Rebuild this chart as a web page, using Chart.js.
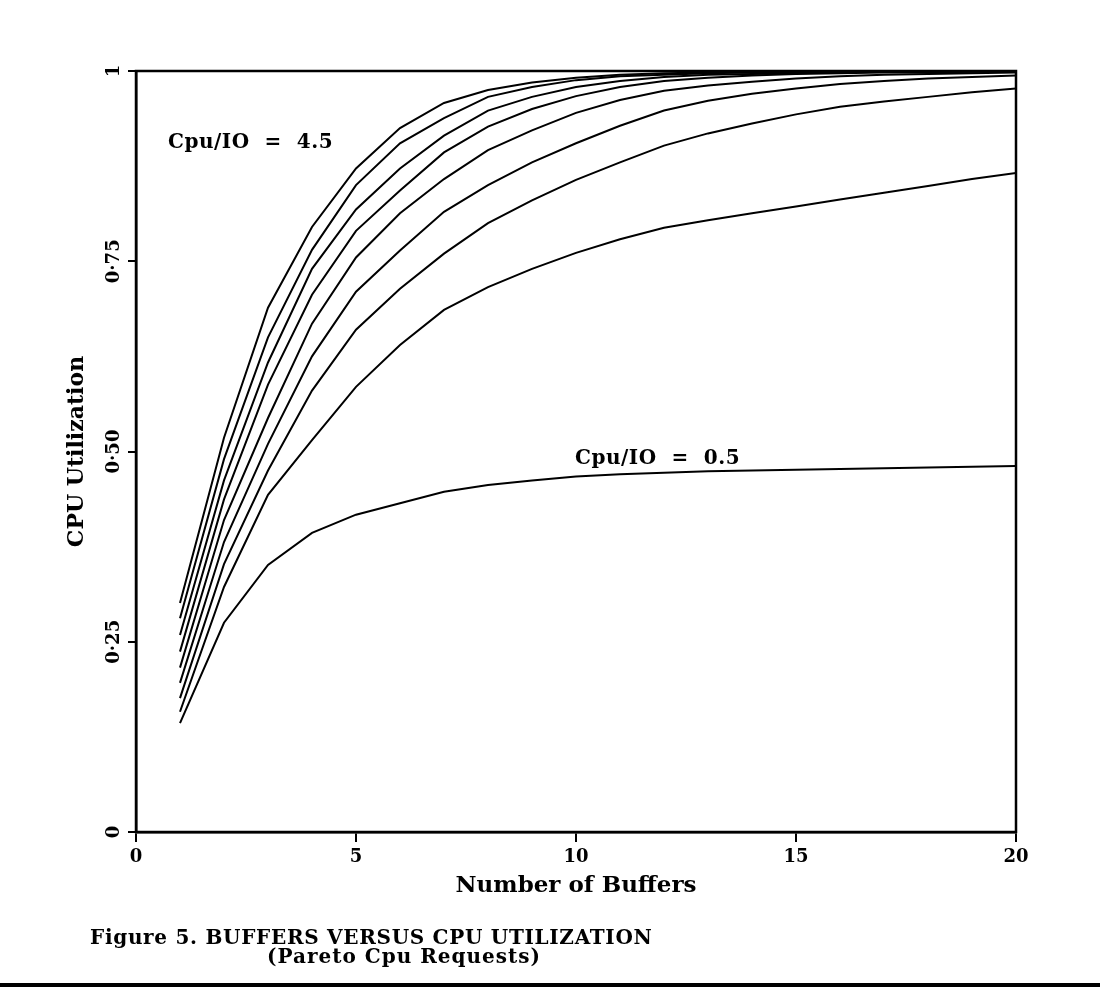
<!DOCTYPE html>
<html>
<head>
<meta charset="utf-8">
<title>Buffers versus CPU utilization</title>
<script src="https://cdn.jsdelivr.net/npm/chart.js@4.4.1/dist/chart.umd.min.js"></script>
<style>
  html, body { margin: 0; padding: 0; background: #fff; }
  canvas { display: block; }
</style>
</head>
<body>
<canvas id="chart" width="1100" height="987"></canvas>
<script>
// Figure 5 - buffers versus CPU utilization (Pareto cpu requests)

// x values: number of buffers
const buffers = [1, 2, 3, 4, 5, 6, 7, 8, 9, 10, 11, 12, 13, 14, 15, 16, 17, 18, 19, 20];

// CPU utilization, one array per Cpu/IO ratio
const cpuIo05 = [0.143, 0.275, 0.351, 0.393, 0.417, 0.432, 0.447, 0.456, 0.462, 0.467, 0.470, 0.472, 0.474, 0.475, 0.476, 0.477, 0.478, 0.479, 0.480, 0.481];
const cpuIo10 = [0.158, 0.322, 0.443, 0.515, 0.585, 0.640, 0.686, 0.716, 0.740, 0.761, 0.779, 0.794, 0.804, 0.813, 0.822, 0.831, 0.840, 0.849, 0.858, 0.866];
const cpuIo15 = [0.176, 0.352, 0.475, 0.580, 0.660, 0.714, 0.760, 0.800, 0.830, 0.857, 0.880, 0.902, 0.918, 0.931, 0.943, 0.953, 0.960, 0.966, 0.972, 0.977];
const cpuIo20 = [0.196, 0.381, 0.510, 0.625, 0.710, 0.764, 0.815, 0.850, 0.880, 0.905, 0.928, 0.948, 0.961, 0.970, 0.977, 0.983, 0.987, 0.990, 0.992, 0.994];
const cpuIo25 = [0.216, 0.410, 0.544, 0.668, 0.755, 0.813, 0.858, 0.896, 0.922, 0.945, 0.962, 0.974, 0.981, 0.986, 0.990, 0.993, 0.995, 0.996, 0.997, 0.998];
const cpuIo30 = [0.237, 0.437, 0.588, 0.706, 0.790, 0.843, 0.893, 0.927, 0.950, 0.967, 0.979, 0.987, 0.991, 0.994, 0.996, 0.997, 0.998, 0.998, 0.999, 0.999];
const cpuIo35 = [0.259, 0.462, 0.617, 0.740, 0.818, 0.872, 0.915, 0.948, 0.966, 0.979, 0.987, 0.992, 0.995, 0.996, 0.997, 0.998, 0.999, 0.999, 0.999, 0.999];
const cpuIo40 = [0.281, 0.490, 0.650, 0.765, 0.850, 0.905, 0.938, 0.966, 0.979, 0.988, 0.993, 0.995, 0.997, 0.998, 0.998, 0.999, 0.999, 0.999, 1.000, 1.000];
const cpuIo45 = [0.301, 0.518, 0.689, 0.795, 0.872, 0.925, 0.958, 0.975, 0.985, 0.991, 0.995, 0.997, 0.998, 0.999, 0.999, 0.999, 1.000, 1.000, 1.000, 1.000];

const ratioLabels = ['0.5', '1.0', '1.5', '2.0', '2.5', '3.0', '3.5', '4.0', '4.5'];
const ratioSeries = [cpuIo05, cpuIo10, cpuIo15, cpuIo20, cpuIo25, cpuIo30, cpuIo35, cpuIo40, cpuIo45];

// axis ticks
const xTickValues = [0, 5, 10, 15, 20];
const yTickValues = [0, 0.25, 0.5, 0.75, 1];
const yTickLabels = ['0', '0·25', '0·50', '0·75', '1'];

const serif = '"DejaVu Serif", "Liberation Serif", serif';

// top/right frame, curve labels, caption and the rule at the bottom
const extrasPlugin = {
  id: 'extras',
  afterDraw(chart) {
    const ctx = chart.ctx;
    const area = chart.chartArea;
    const x = chart.scales.x;
    const y = chart.scales.y;
    ctx.save();
    ctx.strokeStyle = '#000';
    ctx.lineWidth = 2.5;
    ctx.strokeRect(area.left, area.top, area.right - area.left, area.bottom - area.top);

    ctx.fillStyle = '#000';
    ctx.textBaseline = 'alphabetic';
    ctx.textAlign = 'left';
    ctx.font = 'bold 20px ' + serif;
    ctx.letterSpacing = '0.5px';
    ctx.fillText('Cpu/IO  =  4.5', x.getPixelForValue(0.73), y.getPixelForValue(0.899));
    ctx.fillText('Cpu/IO  =  0.5', x.getPixelForValue(9.98), y.getPixelForValue(0.483));

    ctx.font = 'bold 20px ' + serif;
    ctx.letterSpacing = '0.7px';
    ctx.fillText('Figure 5. BUFFERS VERSUS CPU UTILIZATION', 90, 944);
    ctx.letterSpacing = '1px';
    ctx.fillText('(Pareto Cpu Requests)', 267, 963);
    ctx.letterSpacing = '0px';

    ctx.fillRect(0, 983, chart.width, 4);
    ctx.restore();
  }
};

const datasets = ratioSeries.map((series, i) => ({
  label: 'Cpu/IO = ' + ratioLabels[i],
  data: buffers.map((b, j) => ({ x: b, y: series[j] })),
  borderColor: '#000',
  borderWidth: 2,
  pointRadius: 0,
  tension: 0,
  fill: false
}));

new Chart(document.getElementById('chart'), {
  type: 'line',
  data: { datasets: datasets },
  options: {
    responsive: false,
    animation: false,
    layout: { padding: { top: 71, right: 84, left: 64, bottom: 87 } },
    plugins: {
      legend: { display: false },
      tooltip: { enabled: false }
    },
    scales: {
      x: {
        type: 'linear',
        min: 0,
        max: 20,
        afterBuildTicks: (scale) => { scale.ticks = xTickValues.map(v => ({ value: v })); },
        afterFit: (scale) => { scale.height = 68; },
        ticks: {
          color: '#000',
          padding: 5,
          font: { family: serif, size: 18, weight: 'bold' }
        },
        grid: { display: true, drawOnChartArea: false, tickLength: 10, color: '#000', lineWidth: 2 },
        border: { display: true, color: '#000', width: 2.5 },
        title: {
          display: true,
          text: 'Number of Buffers',
          color: '#000',
          padding: 0,
          font: { family: serif, size: 23, weight: 'bold' }
        }
      },
      y: {
        type: 'linear',
        min: 0,
        max: 1,
        afterBuildTicks: (scale) => { scale.ticks = yTickValues.map(v => ({ value: v })); },
        afterFit: (scale) => { scale.width = 72; },
        ticks: {
          color: '#000',
          minRotation: 90,
          maxRotation: 90,
          crossAlign: 'center',
          padding: -8,
          font: { family: serif, size: 18, weight: 'bold' },
          callback: (value) => yTickLabels[yTickValues.indexOf(value)]
        },
        grid: { display: true, drawOnChartArea: false, tickLength: 8, color: '#000', lineWidth: 2 },
        border: { display: true, color: '#000', width: 2.5 },
        title: {
          display: true,
          text: 'CPU Utilization',
          color: '#000',
          padding: 0,
          font: { family: serif, size: 22, weight: 'bold' }
        }
      }
    }
  },
  plugins: [extrasPlugin]
});
</script>
</body>
</html>
